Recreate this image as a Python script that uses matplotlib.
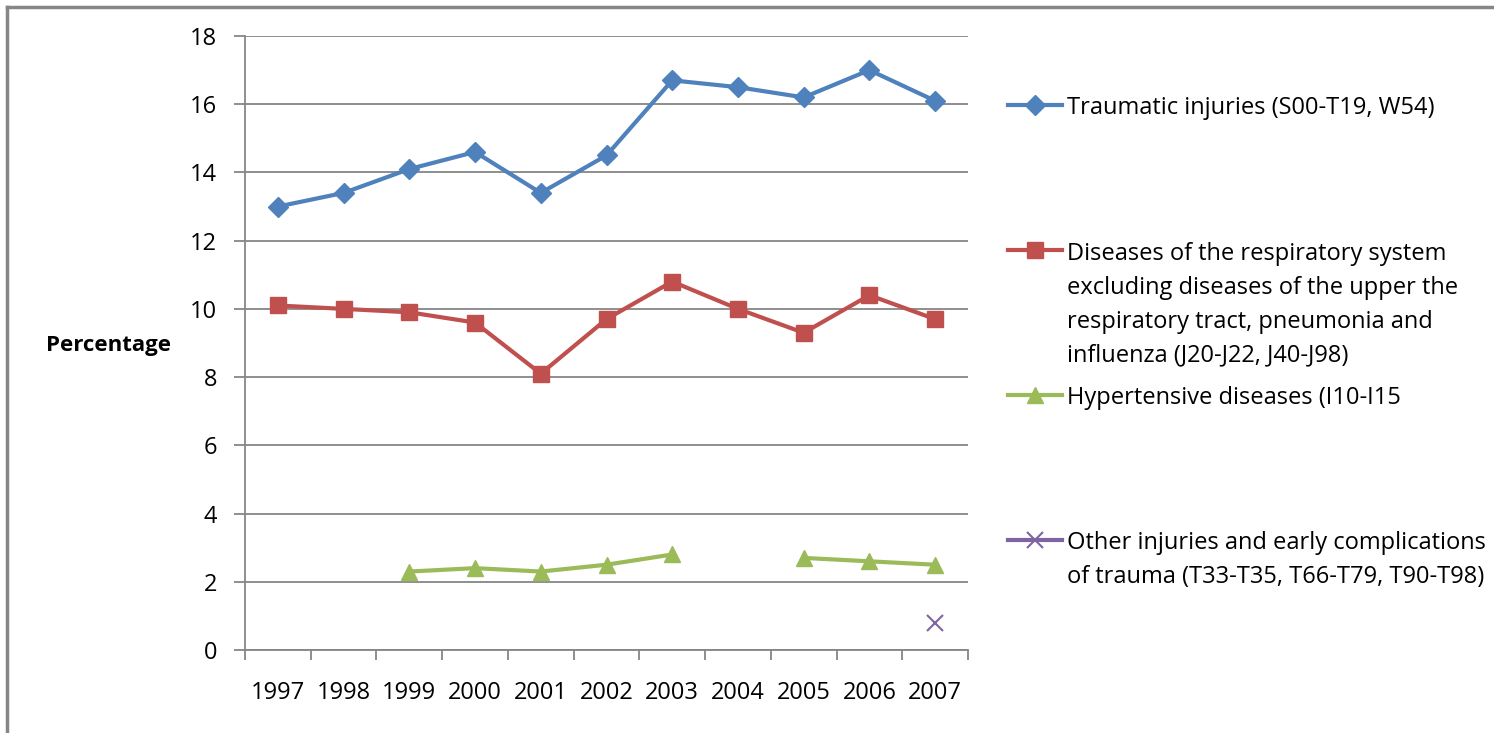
import numpy as np
import matplotlib
matplotlib.use("Agg")
import matplotlib.pyplot as plt
from matplotlib.lines import Line2D

years = ["1997", "1998", "1999", "2000", "2001", "2002", "2003", "2004", "2005", "2006", "2007"]
traumatic = [13.0, 13.4, 14.1, 14.6, 13.4, 14.5, 16.7, 16.5, 16.2, 17.0, 16.1]
respiratory = [10.1, 10.0, 9.9, 9.6, 8.1, 9.7, 10.8, 10.0, 9.3, 10.4, 9.7]
hypertensive = [np.nan, np.nan, 2.3, 2.4, 2.3, 2.5, 2.8, np.nan, 2.7, 2.6, 2.5]
other = [np.nan, np.nan, np.nan, np.nan, np.nan, np.nan, np.nan, np.nan, np.nan, np.nan, 0.8]
yticks = [0, 2, 4, 6, 8, 10, 12, 14, 16, 18]

labels = [
    "Traumatic injuries (S00-T19, W54)",
    "Diseases of the respiratory system\nexcluding diseases of the upper the\nrespiratory tract, pneumonia and\ninfluenza (J20-J22, J40-J98)",
    "Hypertensive diseases (I10-I15",
    "Other injuries and early complications\nof trauma (T33-T35, T66-T79, T90-T98)",
]
colors = ["#4F81BD", "#C0504D", "#9BBB59", "#8064A2"]
markers = ["D", "s", "^", "x"]
msizes = [10, 11, 12, 12]

plt.rcParams['font.family'] = ['Open Sans', 'DejaVu Sans']
W, H = 1494, 733
fig = plt.figure(figsize=(W / 100, H / 100), dpi=100)
ax = fig.add_axes([245 / W, 1 - 650 / H, (968 - 245) / W, (650 - 36) / H])

x = np.arange(len(years))
series = [traumatic, respiratory, hypertensive, other]
for vals, c, m, ms in zip(series, colors, markers, msizes):
    if m == "x":
        ax.plot(x, vals, color=c, lw=0, marker=m, ms=ms, mew=1.5, clip_on=False)
    else:
        ax.plot(x, vals, color=c, lw=3, marker=m, ms=ms, mec=c, mfc=c, clip_on=False, zorder=3)

ax.set_xlim(-0.5, len(years) - 0.5)
ax.set_ylim(0, 18)
ax.set_yticks(yticks)
ax.set_yticklabels([str(v) for v in yticks], fontsize=17)
ax.set_xticks(x)
ax.set_xticklabels(years, fontsize=17)
ax.tick_params(axis='x', length=0, pad=22)
ax.set_xticks(np.arange(-0.5, len(years), 1.0), minor=True)
ax.tick_params(axis='x', which='minor', length=7, color='#868686', width=1.3)
ax.tick_params(axis='y', length=8, color='#868686', width=1.3, pad=12)
ax.yaxis.grid(True, color='#868686', lw=1.3)
ax.set_axisbelow(True)
for s in ['top', 'right']:
    ax.spines[s].set_visible(False)
for s in ['left', 'bottom']:
    ax.spines[s].set_color('#868686')
    ax.spines[s].set_linewidth(1.3)

fig.text(108 / W, 1 - 345 / H, "Percentage", fontsize=16, fontweight='bold', ha='center', va='center')

# outer frame
fig.add_artist(Line2D([7 / W, 1.0], [1 - 7 / H, 1 - 7 / H], color='#868686', lw=2.5))
fig.add_artist(Line2D([7 / W, 7 / W], [1 - 7 / H, 0], color='#868686', lw=2.5))

# legend (drawn manually to place handles on the first text line)
leg_y = [105, 250, 395, 540]
fs = 17
line_px = 34.3
for lab, c, m, ms, yy in zip(labels, colors, markers, msizes, leg_y):
    yf = 1 - yy / H
    fig.add_artist(Line2D([1008 / W, 1062 / W], [yf, yf], color=c, lw=3))
    fig.add_artist(Line2D([1035 / W], [yf], color=c, marker=m, ms=ms, mec=c, mfc=c, lw=0,
                          mew=1.5 if m == "x" else 1))
    nlines = lab.count("\n") + 1
    fig.text(1067 / W, 1 - (yy + 8.5 + (nlines - 1) * line_px) / H, lab, fontsize=fs,
             ha='left', va='baseline', linespacing=1.55)

fig.savefig("out.png", dpi=100)
